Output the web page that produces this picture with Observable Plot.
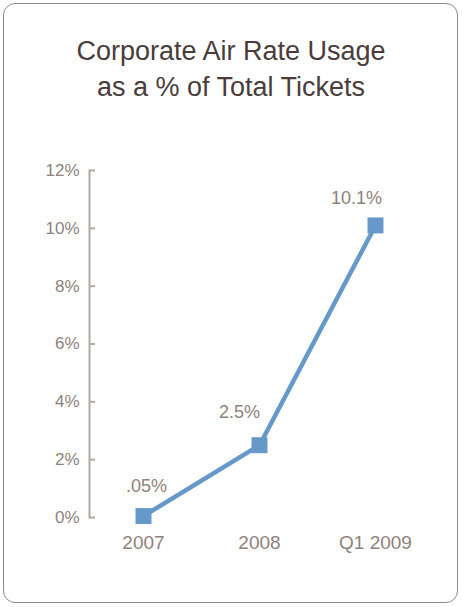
<!DOCTYPE html>
<html>
<head>
<meta charset="utf-8">
<script src="https://cdn.jsdelivr.net/npm/d3@7"></script>
<script src="https://cdn.jsdelivr.net/npm/@observablehq/plot@0.6"></script>
<style>
  html, body { margin: 0; padding: 0; background: #fff; }
  #wrap { position: relative; width: 462px; height: 607px; overflow: hidden; font-family: "Liberation Sans", Arial, sans-serif; }
  #box { position: absolute; left: 3px; top: 3px; width: 453px; height: 598px; border: 1.5px solid #8a8a8a; border-radius: 12px; }
  #title { position: absolute; left: 0; top: 33px; width: 462px; text-align: center; font-size: 27px; line-height: 36px; color: #4a3c3c; }
  #chart { position: absolute; left: 0; top: 120px; }
</style>
</head>
<body>
<div id="wrap">
  <div id="box"></div>
  <div id="title">Corporate Air Rate Usage<br>as a % of Total Tickets</div>
  <div id="chart"></div>
</div>
<script>
const periods = ["2007", "2008", "Q1 2009"];
const usage = [0.05, 2.5, 10.1];
const valueLabels = [".05%", "2.5%", "10.1%"];
const yTicks = [0, 2, 4, 6, 8, 10, 12];

const data = periods.map((p, i) => ({period: p, value: usage[i], label: valueLabels[i]}));

const axisColor = "#b5a9a3";
const textColor = "#8f817b";
const blue = "#6699c9";

const labelOffsets = [[3, -30], [-20, -33], [-19, -27]];

const plot = Plot.plot({
  width: 462,
  height: 470,
  marginLeft: 89,
  marginRight: 34,
  marginTop: 50,
  marginBottom: 73,
  style: {fontFamily: "'Liberation Sans', Arial, sans-serif", background: "transparent", overflow: "visible"},
  x: {type: "point", domain: periods, padding: 0.455},
  y: {domain: [0, 12]},
  marks: [
    Plot.frame({anchor: "left", stroke: axisColor, strokeWidth: 2}),
    Plot.axisY(yTicks, {anchor: "left", tickSize: 6, dx: 6, tickFormat: () => "", stroke: axisColor, strokeWidth: 2, strokeOpacity: 1, label: null}),
    Plot.axisY(yTicks, {anchor: "left", tickSize: 0, tickPadding: 10, tickFormat: d => d + "%", fill: textColor, fontSize: 17, label: null}),
    Plot.axisX({anchor: "bottom", tickSize: 0, tickPadding: 18, fill: textColor, fontSize: 19, label: null}),
    Plot.line(data, {x: "period", y: "value", stroke: blue, strokeWidth: 4.5}),
    Plot.dot(data, {x: "period", y: "value", symbol: "square", r: 9, fill: blue, stroke: "none"}),
    ...data.map((d, i) => Plot.text([d], {x: "period", y: "value", text: "label", dx: labelOffsets[i][0], dy: labelOffsets[i][1], fill: textColor, fontSize: 18}))
  ]
});
document.getElementById("chart").appendChild(plot);
</script>
</body>
</html>
